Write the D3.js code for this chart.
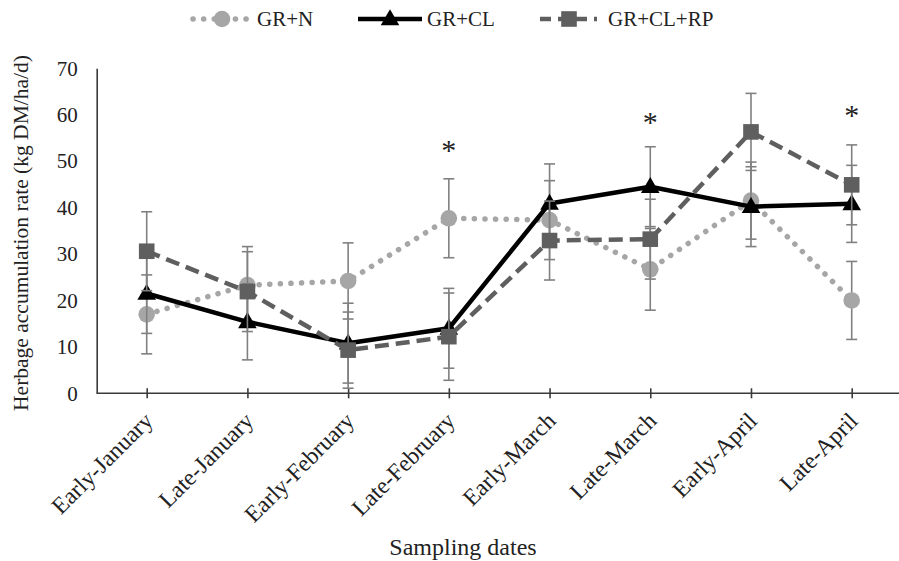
<!DOCTYPE html>
<html><head><meta charset="utf-8">
<script src="https://cdn.jsdelivr.net/npm/d3@7"></script>
<style>
html,body{margin:0;padding:0;background:#fff;}
svg{display:block;}
svg text{font-family:"Liberation Serif","Times New Roman",serif !important;}
</style></head>
<body>
<svg id="chart" width="899" height="561"></svg>
<script>
const categories = ["Early-January","Late-January","Early-February","Late-February","Early-March","Late-March","Early-April","Late-April"];
const seriesNames = ["GR+N","GR+CL","GR+CL+RP"];
const grN      = [17.0, 23.3, 24.2, 37.7, 37.3, 26.7, 41.5, 20.0];
const grNErr   = [8.5, 8.3, 8.2, 8.5, 8.5, 8.8, 8.3, 8.4];
const grCL     = [21.5, 15.4, 10.8, 14.0, 40.9, 44.5, 40.2, 40.8];
const grCLErr  = [8.6, 8.2, 8.6, 8.6, 8.5, 8.6, 8.6, 8.3];
const grCLRP   = [30.6, 21.9, 9.3, 12.2, 32.9, 33.2, 56.3, 44.9];
const grCLRPErr= [8.5, 8.6, 8.2, 9.4, 8.5, 8.6, 8.3, 8.6];
const sigMarks = [null, null, null, 53.5, null, 59.6, null, 61.0];
const yTicks = [0,10,20,30,40,50,60,70];

const FONT = "Liberation Serif";
const svg = d3.select("#chart");
const x = d3.scalePoint().domain(categories).range([146.7, 851.7]);
const y = d3.scaleLinear().domain([0,70]).range([393.3, 68.3]);
const axisColor = "#3a3a3a";
const errColor = "#808080";

// Y axis line (no ticks)
const yAxis = d3.axisLeft(y).tickValues(yTicks).tickSize(0).tickPadding(19);
const gy = svg.append("g").attr("transform","translate(96.7,0)").call(yAxis);
gy.attr("font-family",FONT);
gy.select(".domain").attr("stroke",axisColor).attr("stroke-width",1.6);
gy.selectAll("text").attr("font-size","21px").attr("fill","#222").attr("font-family",FONT);

// X axis
const xAxis = d3.axisBottom(x).tickSize(0).tickFormat("");
const gx = svg.append("g").attr("transform","translate(0,393.3)").call(xAxis);
gx.attr("font-family",FONT);
gx.select(".domain").remove();
gx.append("line").attr("x1",96.7).attr("x2",899).attr("y1",0).attr("y2",0)
  .attr("stroke",axisColor).attr("stroke-width",1.6);
gx.selectAll(".tick").append("line").attr("y1",-5).attr("y2",5)
  .attr("stroke",axisColor).attr("stroke-width",1.6);
gx.selectAll(".tick").append("text")
  .attr("transform","translate(7,29) rotate(-45)")
  .attr("text-anchor","end")
  .attr("font-size","23.5px").attr("fill","#222")
  .attr("font-family",FONT)
  .text(d=>d);

// axis titles
svg.append("text").attr("x",463).attr("y",555).attr("text-anchor","middle").attr("font-family",FONT)
  .attr("font-size","24px").attr("fill","#222").text("Sampling dates");
svg.append("text").attr("transform","translate(28,233) rotate(-90)").attr("text-anchor","middle").attr("font-family",FONT)
  .attr("font-size","21.5px").attr("fill","#222").text("Herbage accumulation rate (kg DM/ha/d)");

const series = [
  {name:seriesNames[0], vals:grN, err:grNErr, color:"#a6a6a6", dash:"0.1 10.5", width:5.5, cap:"round", marker:"circle"},
  {name:seriesNames[1], vals:grCL, err:grCLErr, color:"#000000", dash:null, width:4.5, cap:"butt", marker:"triangle"},
  {name:seriesNames[2], vals:grCLRP, err:grCLRPErr, color:"#5f5f5f", dash:"14 7", width:4.5, cap:"butt", marker:"square"}
];

const line = d3.line().x((d,i)=>x(categories[i])).y(d=>y(d));

function drawMarker(g, type, color){
  if(type==="circle"){
    g.append("circle").attr("r",8.3).attr("fill",color);
  } else if(type==="triangle"){
    g.append("path").attr("d",d3.symbol(d3.symbolTriangle,150)()).attr("transform","translate(0,1)").attr("fill",color);
  } else {
    g.append("rect").attr("x",-7.8).attr("y",-7.8).attr("width",15.6).attr("height",15.6).attr("fill",color);
  }
}

series.forEach(s=>{
  const g = svg.append("g");
  s.vals.forEach((v,i)=>{
    const cx = x(categories[i]);
    const top = y(v + s.err[i]), bot = y(v - s.err[i]);
    g.append("line").attr("x1",cx).attr("x2",cx).attr("y1",top).attr("y2",bot).attr("stroke",errColor).attr("stroke-width",1.6);
    [top,bot].forEach(yy=>g.append("line").attr("x1",cx-5.5).attr("x2",cx+5.5).attr("y1",yy).attr("y2",yy).attr("stroke",errColor).attr("stroke-width",1.6));
  });
  g.append("path").attr("d",line(s.vals)).attr("fill","none").attr("stroke",s.color)
    .attr("stroke-width",s.width).attr("stroke-linecap",s.cap).attr("stroke-linejoin","round")
    .attr("stroke-dasharray",s.dash);
  s.vals.forEach((v,i)=>{
    const mg = g.append("g").attr("transform",`translate(${x(categories[i])},${y(v)})`);
    drawMarker(mg, s.marker, s.color);
  });
});

// significance asterisks
svg.append("g").selectAll("text").data(sigMarks.map((v,i)=>({v,c:categories[i]})).filter(d=>d.v!==null))
  .join("text").attr("x",d=>x(d.c)).attr("y",d=>y(d.v)+15).attr("text-anchor","middle").attr("font-family",FONT)
  .attr("font-size","30px").attr("fill","#222").text("*");

// legend
const legend = [
  {s:series[0], x1:193, x2:251, mx:222, tx:257},
  {s:series[1], x1:358, x2:422, mx:390, tx:427},
  {s:series[2], x1:540, x2:597, mx:569, tx:608}
];
const lg = svg.append("g");
legend.forEach(l=>{
  const ly = 19;
  lg.append("line").attr("x1",l.x1).attr("x2",l.x2).attr("y1",ly).attr("y2",ly)
    .attr("stroke",l.s.color).attr("stroke-width",l.s.width).attr("stroke-linecap",l.s.cap)
    .attr("stroke-dasharray",l.s.marker==="square"?"11 7":l.s.dash);
  const mg = lg.append("g").attr("transform",`translate(${l.mx},${ly})`);
  drawMarker(mg, l.s.marker, l.s.color);
  lg.append("text").attr("x",l.tx).attr("y",ly+7).attr("font-family",FONT).attr("font-size","21px").attr("fill","#222").text(l.s.name);
});
</script>
</body></html>
